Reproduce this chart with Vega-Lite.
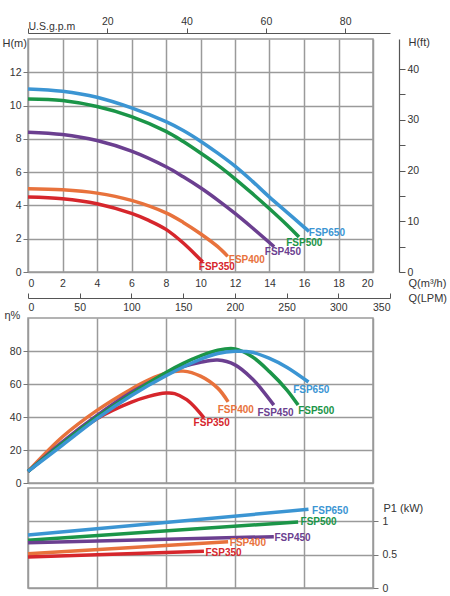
{
  "$schema": "https://vega.github.io/schema/vega-lite/v6.json",
  "padding": {"left": 1, "top": 16, "right": 0, "bottom": 0},
  "background": "white",
  "bounds": "flush",
  "spacing": 5,
  "datasets": {
    "head": [
      {"model": "FSP650", "Q": 0, "H": 11.0}, {"model": "FSP650", "Q": 2, "H": 10.86}, {"model": "FSP650", "Q": 4, "H": 10.5}, {"model": "FSP650", "Q": 6, "H": 9.86}, {"model": "FSP650", "Q": 8, "H": 9.03}, {"model": "FSP650", "Q": 9, "H": 8.5}, {"model": "FSP650", "Q": 10, "H": 7.86}, {"model": "FSP650", "Q": 11, "H": 7.14}, {"model": "FSP650", "Q": 12, "H": 6.36}, {"model": "FSP650", "Q": 13, "H": 5.46}, {"model": "FSP650", "Q": 14, "H": 4.5}, {"model": "FSP650", "Q": 15, "H": 3.6}, {"model": "FSP650", "Q": 16, "H": 2.7}, {"model": "FSP650", "Q": 16.29, "H": 2.44},
      {"model": "FSP500", "Q": 0, "H": 10.4}, {"model": "FSP500", "Q": 2, "H": 10.3}, {"model": "FSP500", "Q": 4, "H": 9.94}, {"model": "FSP500", "Q": 6, "H": 9.34}, {"model": "FSP500", "Q": 8, "H": 8.45}, {"model": "FSP500", "Q": 9, "H": 7.84}, {"model": "FSP500", "Q": 10, "H": 7.15}, {"model": "FSP500", "Q": 11, "H": 6.42}, {"model": "FSP500", "Q": 12, "H": 5.6}, {"model": "FSP500", "Q": 13, "H": 4.72}, {"model": "FSP500", "Q": 14, "H": 3.8}, {"model": "FSP500", "Q": 15, "H": 2.84}, {"model": "FSP500", "Q": 15.71, "H": 2.1},
      {"model": "FSP450", "Q": 0, "H": 8.4}, {"model": "FSP450", "Q": 2, "H": 8.26}, {"model": "FSP450", "Q": 4, "H": 7.9}, {"model": "FSP450", "Q": 6, "H": 7.26}, {"model": "FSP450", "Q": 8, "H": 6.32}, {"model": "FSP450", "Q": 9, "H": 5.72}, {"model": "FSP450", "Q": 10, "H": 5.06}, {"model": "FSP450", "Q": 11, "H": 4.32}, {"model": "FSP450", "Q": 12, "H": 3.52}, {"model": "FSP450", "Q": 13, "H": 2.66}, {"model": "FSP450", "Q": 14.27, "H": 1.52},
      {"model": "FSP400", "Q": 0, "H": 5.0}, {"model": "FSP400", "Q": 2, "H": 4.94}, {"model": "FSP400", "Q": 4, "H": 4.74}, {"model": "FSP400", "Q": 6, "H": 4.3}, {"model": "FSP400", "Q": 8, "H": 3.55}, {"model": "FSP400", "Q": 9, "H": 2.98}, {"model": "FSP400", "Q": 10, "H": 2.3}, {"model": "FSP400", "Q": 11, "H": 1.52}, {"model": "FSP400", "Q": 11.58, "H": 0.94},
      {"model": "FSP350", "Q": 0, "H": 4.5}, {"model": "FSP350", "Q": 2, "H": 4.4}, {"model": "FSP350", "Q": 4, "H": 4.1}, {"model": "FSP350", "Q": 6, "H": 3.52}, {"model": "FSP350", "Q": 7, "H": 3.1}, {"model": "FSP350", "Q": 8, "H": 2.56}, {"model": "FSP350", "Q": 9, "H": 1.74}, {"model": "FSP350", "Q": 10.13, "H": 0.6}
    ],
    "headLabels": [
      {"model": "FSP650", "Q": 16.28, "H": 2.36},
      {"model": "FSP500", "Q": 14.97, "H": 1.76},
      {"model": "FSP450", "Q": 13.73, "H": 1.2},
      {"model": "FSP400", "Q": 11.64, "H": 0.72},
      {"model": "FSP350", "Q": 9.9, "H": 0.32}
    ],
    "eff": [
      {"model": "FSP350", "Q": 0, "eta": 7}, {"model": "FSP350", "Q": 2, "eta": 24}, {"model": "FSP350", "Q": 4, "eta": 39}, {"model": "FSP350", "Q": 6, "eta": 49}, {"model": "FSP350", "Q": 7, "eta": 52.5}, {"model": "FSP350", "Q": 8, "eta": 54.5}, {"model": "FSP350", "Q": 8.5, "eta": 54.2}, {"model": "FSP350", "Q": 9.2, "eta": 50.5}, {"model": "FSP350", "Q": 9.8, "eta": 44.5}, {"model": "FSP350", "Q": 10.2, "eta": 39.5},
      {"model": "FSP400", "Q": 0, "eta": 7}, {"model": "FSP400", "Q": 2, "eta": 28}, {"model": "FSP400", "Q": 4, "eta": 44}, {"model": "FSP400", "Q": 6, "eta": 57}, {"model": "FSP400", "Q": 7, "eta": 62.5}, {"model": "FSP400", "Q": 8, "eta": 66.5}, {"model": "FSP400", "Q": 9, "eta": 67.8}, {"model": "FSP400", "Q": 10, "eta": 64.8}, {"model": "FSP400", "Q": 11, "eta": 57.5}, {"model": "FSP400", "Q": 11.6, "eta": 49.2},
      {"model": "FSP450", "Q": 0, "eta": 7}, {"model": "FSP450", "Q": 2, "eta": 25}, {"model": "FSP450", "Q": 4, "eta": 41}, {"model": "FSP450", "Q": 6, "eta": 55}, {"model": "FSP450", "Q": 8, "eta": 66}, {"model": "FSP450", "Q": 9, "eta": 70.5}, {"model": "FSP450", "Q": 10, "eta": 73.2}, {"model": "FSP450", "Q": 11, "eta": 74.5}, {"model": "FSP450", "Q": 12, "eta": 71.6}, {"model": "FSP450", "Q": 13, "eta": 63.2}, {"model": "FSP450", "Q": 13.6, "eta": 56}, {"model": "FSP450", "Q": 14.25, "eta": 47.2},
      {"model": "FSP500", "Q": 0, "eta": 7}, {"model": "FSP500", "Q": 2, "eta": 24}, {"model": "FSP500", "Q": 4, "eta": 40}, {"model": "FSP500", "Q": 6, "eta": 54}, {"model": "FSP500", "Q": 8, "eta": 67}, {"model": "FSP500", "Q": 9, "eta": 72.5}, {"model": "FSP500", "Q": 10, "eta": 77}, {"model": "FSP500", "Q": 11, "eta": 80.5}, {"model": "FSP500", "Q": 12, "eta": 81.3}, {"model": "FSP500", "Q": 13, "eta": 76.5}, {"model": "FSP500", "Q": 14, "eta": 67.5}, {"model": "FSP500", "Q": 15, "eta": 56.5}, {"model": "FSP500", "Q": 15.66, "eta": 47.2},
      {"model": "FSP650", "Q": 0, "eta": 7}, {"model": "FSP650", "Q": 2, "eta": 23}, {"model": "FSP650", "Q": 4, "eta": 39}, {"model": "FSP650", "Q": 6, "eta": 53}, {"model": "FSP650", "Q": 8, "eta": 65}, {"model": "FSP650", "Q": 10, "eta": 75}, {"model": "FSP650", "Q": 11, "eta": 78.5}, {"model": "FSP650", "Q": 12, "eta": 79.8}, {"model": "FSP650", "Q": 13, "eta": 79.2}, {"model": "FSP650", "Q": 14, "eta": 75.5}, {"model": "FSP650", "Q": 15, "eta": 70.2}, {"model": "FSP650", "Q": 16.26, "eta": 61.2}
    ],
    "effLabels": [
      {"model": "FSP650", "Q": 15.37, "eta": 56.6},
      {"model": "FSP500", "Q": 15.66, "eta": 43.6},
      {"model": "FSP450", "Q": 13.3, "eta": 42.4},
      {"model": "FSP400", "Q": 11.0, "eta": 44.2},
      {"model": "FSP350", "Q": 9.6, "eta": 36.4}
    ],
    "power": [
      {"model": "FSP650", "Q": 0, "P": 0.795}, {"model": "FSP650", "Q": 16.26, "P": 1.18},
      {"model": "FSP500", "Q": 0, "P": 0.715}, {"model": "FSP500", "Q": 15.66, "P": 0.99},
      {"model": "FSP450", "Q": 0, "P": 0.68}, {"model": "FSP450", "Q": 14.25, "P": 0.77},
      {"model": "FSP400", "Q": 0, "P": 0.515}, {"model": "FSP400", "Q": 11.6, "P": 0.695},
      {"model": "FSP350", "Q": 0, "P": 0.465}, {"model": "FSP350", "Q": 10.2, "P": 0.55}
    ],
    "powerLabels": [
      {"model": "FSP650", "Q": 16.47, "P": 1.155},
      {"model": "FSP500", "Q": 15.8, "P": 0.995},
      {"model": "FSP450", "Q": 14.29, "P": 0.755},
      {"model": "FSP400", "Q": 11.7, "P": 0.67},
      {"model": "FSP350", "Q": 10.29, "P": 0.525}
    ],
    "gpmAxis": [{"gpm": 0}],
    "lpmAxis": [{"lpm": 0}]
  },
  "vconcat": [
    {
      "width": 362,
      "height": 1,
      "view": {"stroke": null},
      "data": {"name": "gpmAxis"},
      "mark": {"type": "point", "opacity": 0},
      "encoding": {
        "x": {"field": "gpm", "type": "quantitative", "scale": {"domain": [0, 91.3], "nice": false},
          "axis": {"orient": "top", "values": [0, 20, 40, 60, 80], "grid": false, "domain": true, "domainColor": "#555", "domainWidth": 1.2, "tickColor": "#555", "tickSize": 5, "labelPadding": 2,
            "labelExpr": "datum.value == 0 ? 'U.S.g.p.m' : datum.label",
            "labelAlign": {"condition": {"test": "datum.value == 0", "value": "left"}, "value": "center"},
            "labelBaseline": {"condition": {"test": "datum.value == 0", "value": "middle"}, "value": "bottom"},
            "title": null}}
      }
    },
    {
      "width": 345,
      "height": 233,
      "resolve": {"axis": {"y": "independent"}},
      "layer": [
        {
          "data": {"name": "head"},
          "mark": {"type": "line", "strokeWidth": 3.5, "interpolate": "catmull-rom"},
          "encoding": {
            "x": {"field": "Q", "type": "quantitative", "scale": {"domain": [0, 20], "nice": false},
              "axis": {"values": [0, 2, 4, 6, 8, 10, 12, 14, 16, 18, 20], "grid": true, "ticks": false, "labelPadding": 6, "labelOverlap": false,
                "title": "Q(m³/h)", "titleAngle": 0, "titleAlign": "left", "titleBaseline": "middle", "titleX": 380, "titleY": 11.5}},
            "y": {"field": "H", "type": "quantitative", "scale": {"domain": [0, 14], "nice": false},
              "axis": {"values": [0, 2, 4, 6, 8, 10, 12], "grid": true, "tickSize": 5, "labelPadding": 2,
                "title": "H(m)", "titleAngle": 0, "titleAlign": "left", "titleBaseline": "middle", "titleX": -26, "titleY": 4}},
            "color": {"field": "model", "type": "nominal", "legend": null,
              "scale": {"domain": ["FSP350", "FSP400", "FSP450", "FSP500", "FSP650"], "range": ["#d6262c", "#e8723c", "#6b3f90", "#1b9548", "#3b95d3"]}}
          }
        },
        {
          "data": {"name": "headLabels"},
          "mark": {"type": "text", "align": "left", "baseline": "middle", "fontWeight": "bold", "fontSize": 10},
          "encoding": {
            "x": {"field": "Q", "type": "quantitative",
              "axis": {"values": [0, 2, 4, 6, 8, 10, 12, 14, 16, 18, 20], "grid": true, "ticks": false, "labelPadding": 6, "labelOverlap": false,
                "title": "Q(m³/h)", "titleAngle": 0, "titleAlign": "left", "titleBaseline": "middle", "titleX": 380, "titleY": 11.5}},
            "y": {"field": "H", "type": "quantitative",
              "axis": {"orient": "right", "offset": 26, "values": [0, 1.524, 3.048, 4.572, 6.096, 7.62, 9.144, 10.668, 12.192], "grid": false, "domain": true, "domainColor": "#555", "domainWidth": 1.2, "tickColor": "#555", "tickSize": 6, "labelPadding": 2,
                "labelExpr": "round(datum.value * 3.28084) % 10 == 0 ? '' + round(datum.value * 3.28084) : ''",
                "title": "H(ft)", "titleAngle": 0, "titleAlign": "left", "titleBaseline": "middle", "titleX": 9, "titleY": 3.5}},
            "text": {"field": "model"},
            "color": {"field": "model", "type": "nominal", "legend": null}
          }
        }
      ]
    },
    {
      "width": 362,
      "height": 36,
      "view": {"stroke": null},
      "data": {"name": "lpmAxis"},
      "mark": {"type": "point", "opacity": 0},
      "encoding": {
        "x": {"field": "lpm", "type": "quantitative", "scale": {"domain": [0, 350], "nice": false},
          "axis": {"orient": "bottom", "offset": -15, "values": [0, 50, 100, 150, 200, 250, 300, 350], "grid": false, "domain": true, "domainColor": "#555", "domainWidth": 1.2, "tickColor": "#555", "tickSize": -5, "labelPadding": 9,
            "title": "Q(LPM)", "titleAngle": 0, "titleAlign": "left", "titleBaseline": "middle", "titleX": 380, "titleY": 0}}
      }
    },
    {
      "width": 345,
      "height": 165,
      "layer": [
        {
          "data": {"name": "eff"},
          "mark": {"type": "line", "strokeWidth": 3.5, "interpolate": "catmull-rom"},
          "encoding": {
            "x": {"field": "Q", "type": "quantitative", "scale": {"domain": [0, 20], "nice": false},
              "axis": {"values": [0, 2, 4, 6, 8, 10, 12, 14, 16, 18, 20], "grid": true, "ticks": false, "labels": false, "title": null}},
            "y": {"field": "eta", "type": "quantitative", "scale": {"domain": [0, 100], "nice": false},
              "axis": {"values": [0, 20, 40, 60, 80], "grid": true, "tickSize": 5, "labelPadding": 2,
                "title": "η%", "titleAngle": 0, "titleAlign": "left", "titleBaseline": "middle", "titleX": -24, "titleY": -3}},
            "color": {"field": "model", "type": "nominal", "legend": null,
              "scale": {"domain": ["FSP350", "FSP400", "FSP450", "FSP500", "FSP650"], "range": ["#d6262c", "#e8723c", "#6b3f90", "#1b9548", "#3b95d3"]}}
          }
        },
        {
          "data": {"name": "effLabels"},
          "mark": {"type": "text", "align": "left", "baseline": "middle", "fontWeight": "bold", "fontSize": 10},
          "encoding": {
            "x": {"field": "Q", "type": "quantitative"},
            "y": {"field": "eta", "type": "quantitative"},
            "text": {"field": "model"},
            "color": {"field": "model", "type": "nominal", "legend": null}
          }
        }
      ]
    },
    {
      "width": 345,
      "height": 100,
      "layer": [
        {
          "data": {"name": "power"},
          "mark": {"type": "line", "strokeWidth": 3.5},
          "encoding": {
            "x": {"field": "Q", "type": "quantitative", "scale": {"domain": [0, 20], "nice": false},
              "axis": {"values": [0, 2, 4, 6, 8, 10, 12, 14, 16, 18, 20], "grid": true, "ticks": false, "labels": false, "title": null}},
            "y": {"field": "P", "type": "quantitative", "scale": {"domain": [0, 1.5], "nice": false},
              "axis": {"orient": "right", "values": [0, 0.5, 1], "format": "~g", "grid": true, "tickSize": 5, "labelPadding": 4,
                "title": "P1 (kW)", "titleAngle": 0, "titleAlign": "left", "titleBaseline": "middle", "titleX": 10, "titleY": 20}},
            "color": {"field": "model", "type": "nominal", "legend": null,
              "scale": {"domain": ["FSP350", "FSP400", "FSP450", "FSP500", "FSP650"], "range": ["#d6262c", "#e8723c", "#6b3f90", "#1b9548", "#3b95d3"]}}
          }
        },
        {
          "data": {"name": "powerLabels"},
          "mark": {"type": "text", "align": "left", "baseline": "middle", "fontWeight": "bold", "fontSize": 10},
          "encoding": {
            "x": {"field": "Q", "type": "quantitative"},
            "y": {"field": "P", "type": "quantitative"},
            "text": {"field": "model"},
            "color": {"field": "model", "type": "nominal", "legend": null}
          }
        }
      ]
    }
  ],
  "config": {
    "font": "Liberation Sans",
    "view": {"stroke": "#9a9a9a", "strokeWidth": 1.5},
    "axis": {"gridColor": "#9a9a9a", "gridWidth": 1.5, "gridOpacity": 1, "domain": false, "tickColor": "#777",
      "labelFont": "Liberation Sans", "labelFontSize": 10.5, "labelColor": "#333",
      "titleFont": "Liberation Sans", "titleFontSize": 11, "titleFontWeight": "normal", "titleColor": "#333"},
    "text": {"font": "Liberation Sans"}
  }
}
